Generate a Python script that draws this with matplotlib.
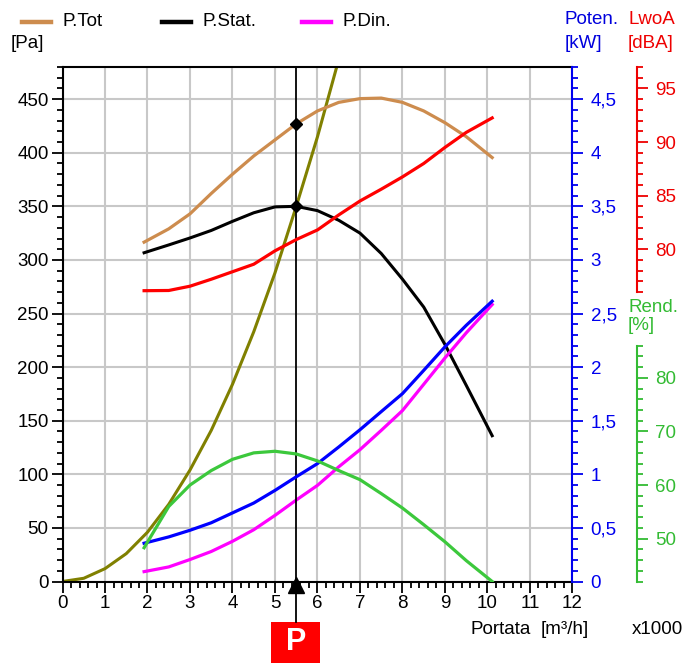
import matplotlib
matplotlib.use('Agg')
import matplotlib.pyplot as plt
import matplotlib.transforms as mtransforms
from matplotlib.ticker import MultipleLocator, FixedLocator, FuncFormatter
from matplotlib.patches import Rectangle
from matplotlib.lines import Line2D

plt.rcParams['font.family'] = ['Liberation Sans', 'DejaVu Sans']
plt.rcParams['font.size'] = 13.5

# flow [m3/h x1000] where the fan curves were read
flow = [1.92, 2.5, 3.0, 3.5, 4.0, 4.5, 5.0, 5.5, 6.0, 6.5, 7.0, 7.5, 8.0, 8.5, 9.0, 9.5, 10.11]
p_tot = [316.6, 329, 343, 362, 380, 397, 412, 427, 439, 447, 450.5, 451, 447, 439, 428, 415, 395.5]
p_stat = [306.7, 314, 320.5, 327.5, 336, 344, 349.5, 350, 346, 337, 325, 306, 282, 256, 221, 183, 136]
p_din = [9.2, 13.6, 20.5, 28, 37.5, 48.3, 61.7, 76, 89.7, 107, 123, 141, 159.5, 184, 208.6, 232, 258.4]
power = [0.357, 0.416, 0.478, 0.548, 0.64, 0.732, 0.85, 0.977, 1.10, 1.255, 1.416, 1.585, 1.753, 1.97, 2.19, 2.39, 2.615]
lwoa = [76.13, 76.15, 76.55, 77.2, 77.9, 78.6, 79.85, 80.9, 81.8, 83.2, 84.5, 85.6, 86.75, 88.0, 89.5, 90.9, 92.25]
rend = [48.3, 56.0, 60.0, 62.7, 64.8, 66.0, 66.3, 65.8, 64.5, 62.7, 61.0, 58.4, 55.7, 52.6, 49.4, 45.9, 42.0]

# system (plant) curve
flow_sys = [0, 0.5, 1, 1.5, 2, 2.5, 3, 3.5, 4, 4.5, 5, 5.5, 6, 6.5]
p_sys = [0, 3, 12, 26, 46, 72, 104, 141, 184, 233, 288, 350, 415, 487]

# working point
x_op = 5.49
tot_op = 427
stat_op = 350

W, H = 690, 663
fig = plt.figure(figsize=(W / 100, H / 100), dpi=100)
ax = fig.add_axes([62.5 / W, 1 - 581.5 / H, 510 / W, 514.5 / H])


def comma(v, pos):
    return ('%g' % v).replace('.', ',')


# main axis: pressure
ax.set_xlim(0, 12)
ax.set_ylim(0, 480)
ax.xaxis.set_major_locator(MultipleLocator(1))
ax.xaxis.set_minor_locator(MultipleLocator(0.2))
ax.yaxis.set_major_locator(FixedLocator(range(0, 451, 50)))
ax.yaxis.set_minor_locator(FixedLocator(range(0, 481, 10)))
ax.grid(True, which='major', color='#c8c8c8', lw=1.5)
ax.set_axisbelow(True)
ax.tick_params(which='major', length=8, width=1.3, pad=2, labelsize=13.5)
ax.tick_params(which='minor', length=4.5, width=1.3)
ax.spines['right'].set_visible(False)
for s in ['left', 'bottom', 'top']:
    ax.spines[s].set_linewidth(1.5)

ax.plot(flow_sys, p_sys, color='#808000', lw=2.2)
ax.plot(flow, p_tot, color='#cd8c4e', lw=2.3)
ax.plot(flow, p_stat, color='black', lw=2.2)
ax.plot(flow, p_din, color='#ff00ff', lw=2.3)

trans = mtransforms.blended_transform_factory(ax.transData, ax.transAxes)
ax.plot([x_op, x_op], [1, -0.079], transform=trans, color='black', lw=1.3, clip_on=False, zorder=5)
ax.plot(x_op, -0.006, marker='^', ms=11, color='black', transform=trans, clip_on=False, zorder=6)
ax.plot([x_op, x_op], [tot_op, stat_op], ls='none', marker='D', ms=6.5, color='black', zorder=6)
ax.add_patch(Rectangle((x_op - 0.575, -0.1584), 1.15, 0.0797, transform=trans,
                       facecolor='#ff0000', edgecolor='none', clip_on=False))
ax.text(x_op, -0.118, 'P', transform=trans, ha='center', va='center',
        color='white', fontsize=22, fontweight='bold')


def side_axis(ylim, color):
    a = ax.twinx()
    a.set_ylim(*ylim)
    for s in ['left', 'top', 'bottom']:
        a.spines[s].set_visible(False)
    a.spines['right'].set_color(color)
    a.spines['right'].set_linewidth(1.5)
    a.tick_params(which='both', colors=color, width=1.3, labelcolor=color)
    a.tick_params(which='major', length=8, pad=5, labelsize=13.5)
    a.tick_params(which='minor', length=4)
    return a


# power axis (blue)
pw = side_axis((0, 4.8), '#0000ee')
pw.yaxis.set_major_locator(FixedLocator([0, 0.5, 1, 1.5, 2, 2.5, 3, 3.5, 4, 4.5]))
pw.yaxis.set_minor_locator(MultipleLocator(0.1))
pw.yaxis.set_major_formatter(FuncFormatter(comma))
pw.plot(flow, power, color='#0000ff', lw=2.3)

# sound power axis (red)
sp = side_axis((49, 97), '#ee0000')
sp.spines['right'].set_position(('axes', 1.1265))
sp.spines['right'].set_bounds(76, 97)
sp.yaxis.set_major_locator(FixedLocator([80, 85, 90, 95]))
sp.yaxis.set_minor_locator(FixedLocator(range(76, 98)))
sp.plot(flow, lwoa, color='#ff0000', lw=2.3)

# efficiency axis (green)
ef = side_axis((42, 138), '#33bb33')
ef.spines['right'].set_position(('axes', 1.1265))
ef.spines['right'].set_bounds(42, 86)
ef.yaxis.set_major_locator(FixedLocator([50, 60, 70, 80]))
ef.yaxis.set_minor_locator(FixedLocator(range(42, 87, 2)))
ef.plot(flow, rend, color='#3cc83c', lw=2.3)


def ftext(x, y, s, color='black', **kw):
    fig.text(x / W, 1 - y / H, s, color=color, va='center', ha='left', fontsize=13.5, **kw)


# legend
for x0, col, name in [(22, '#cd8c4e', 'P.Tot'), (162, 'black', 'P.Stat.'), (302, '#ff00ff', 'P.Din.')]:
    fig.add_artist(Line2D([x0 / W, (x0 + 29) / W], [1 - 22 / H, 1 - 22 / H], color=col, lw=3.2))
    ftext(x0 + 41, 22, name)

ftext(11, 44, '[Pa]')
ftext(565, 20, 'Poten.', '#0000dd')
ftext(565, 44, '[kW]', '#0000dd')
ftext(628, 20, 'LwoA', '#ee0000')
ftext(628, 44, '[dBA]', '#ee0000')
ftext(628, 307, 'Rend.', '#33bb33')
ftext(628, 326, '[%]', '#33bb33')
ftext(471, 630, 'Portata')
ftext(541, 630, '[m³/h]')
ftext(632, 630, 'x1000')

fig.savefig('out.png', dpi=100)
